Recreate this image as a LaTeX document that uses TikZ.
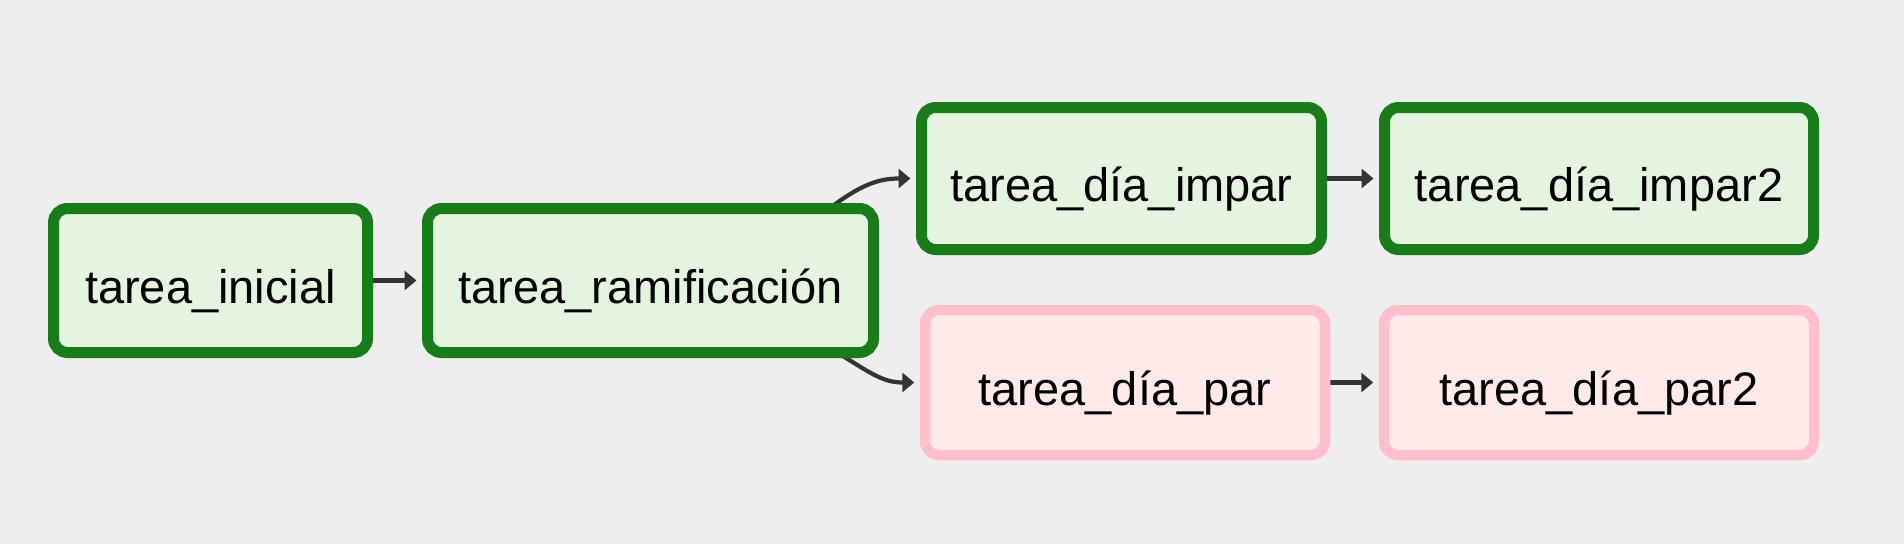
\documentclass[tikz,border=0pt]{standalone}
\usepackage{fontspec}
\setmainfont[Ligatures=NoCommon]{Liberation Sans}
\usetikzlibrary{arrows.meta,calc}
\definecolor{bgc}{RGB}{238,238,238}
\definecolor{okline}{RGB}{24,124,24}
\definecolor{okfill}{RGB}{229,244,224}
\definecolor{skipline}{RGB}{255,192,203}
\definecolor{skipfill}{RGB}{255,233,233}
\definecolor{edgec}{RGB}{52,52,52}
\pgfdeclarelayer{bglayer}
\pgfdeclarelayer{edgelayer}
\pgfsetlayers{bglayer,edgelayer,main}
\tikzset{
  task/.style={rectangle, rounded corners=14pt, line width=11pt, inner sep=0pt,
    minimum height=144pt, text height=45pt, text depth=0pt,
    font=\fontsize{47}{56}\selectfont, text=black},
  oktask/.style={task, draw=okline, fill=okfill},
  skiptask/.style={task, draw=skipline, fill=skipfill, line width=10.5pt},
  edge/.style={draw=edgec, line width=4.2pt, -{Triangle[length=12pt,width=19pt]}, shorten >=5.5pt}
}
\begin{document}
\begin{tikzpicture}[x=1pt,y=-1pt]
\begin{pgfonlayer}{bglayer}
\fill[bgc] (0,0) rectangle (1904,544);
\end{pgfonlayer}
\useasboundingbox (0,0) rectangle (1904,544);
\node[oktask, minimum width=314pt] (ini) at (210.5,280.5) {tarea\_inicial};
\node[oktask, minimum width=446pt] (ram) at (650.5,280.5) {tarea\_ramificación};
\node[oktask, minimum width=400pt, minimum height=142pt] (impar) at (1121.5,178.5) {tarea\_día\_impar};
\node[oktask, minimum width=429pt, minimum height=142pt] (impar2) at (1599,178.5) {tarea\_día\_impar2};
\node[skiptask, minimum width=400pt, minimum height=145pt] (par) at (1125,382.5) {tarea\_día\_par};
\node[skiptask, minimum width=430pt, minimum height=145pt] (par2) at (1599,382.5) {tarea\_día\_par2};
\begin{pgfonlayer}{edgelayer}
\draw[edge] (ini.east) -- (ram.west);
\draw[edge] ($(ram.north east)+(-45,2)$) .. controls +(30,-22) and +(-35,0) .. (impar.west);
\draw[edge] ($(ram.south east)+(-36,-2)$) .. controls +(30,19) and +(-35,0) .. (par.west);
\draw[edge] (impar.east) -- (impar2.west);
\draw[edge] (par.east) -- (par2.west);
\end{pgfonlayer}
\end{tikzpicture}
\end{document}
